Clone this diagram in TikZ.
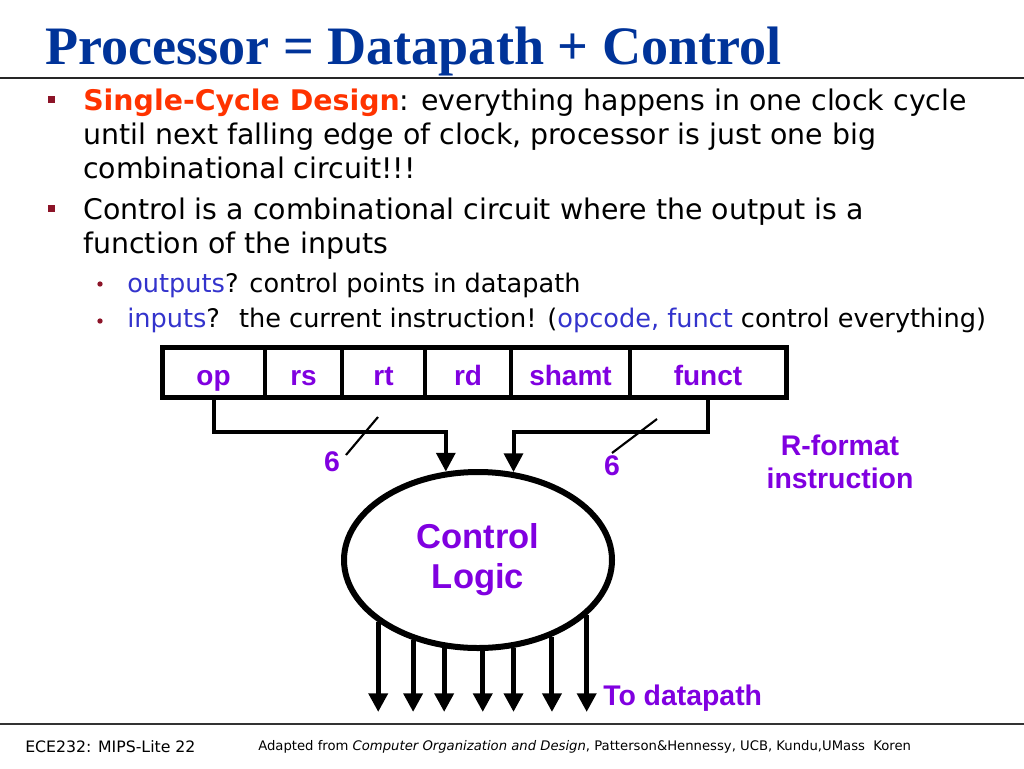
\documentclass[tikz,border=0pt]{standalone}
\usepackage{fontspec}
\setmainfont{DejaVu Sans}
\newfontfamily\titlefont{Liberation Serif}
\newfontfamily\labelfont{Liberation Sans}
\usetikzlibrary{arrows.meta}
\usetikzlibrary{positioning}
\usetikzlibrary{shapes}

\definecolor{titleblue}{RGB}{0,51,153}
\definecolor{hotred}{RGB}{255,51,0}
\definecolor{bulred}{RGB}{140,20,40}
\definecolor{txtblue}{RGB}{51,51,204}
\definecolor{ctlpurple}{RGB}{128,0,224}

\begin{document}
\begin{tikzpicture}[x=0.75pt,y=-0.75pt,
    field/.style={draw, line width=3pt, outer sep=0pt, inner sep=0pt, minimum height=37.5pt,
      text height=21pt, text depth=1.5pt,
      font=\labelfont\bfseries\fontsize{21pt}{25pt}\selectfont, text=ctlpurple},
    lbl/.style={font=\labelfont\bfseries\fontsize{21.3pt}{25pt}\selectfont, text=ctlpurple, inner sep=0pt},
    body/.style={align=left, inner sep=0pt, font=\fontsize{21.3pt}{25.5pt}\selectfont},
    subtext/.style={align=left, inner sep=0pt, font=\fontsize{19.2pt}{22pt}\selectfont},
    foot/.style={inner sep=0pt, font=\fontsize{9.9pt}{12pt}\selectfont},
    sqbul/.style={fill=bulred, minimum size=5.25pt, inner sep=0pt},
    dotbul/.style={circle, fill=bulred, minimum size=4pt, inner sep=0pt},
    bus/.style={line width=3pt, -{Triangle[length=14pt,width=14pt]}},
    outarrow/.style={line width=3.75pt, -{Triangle[length=14pt,width=14pt]}}]
    \useasboundingbox (0,0) rectangle (1024,768);

    % title and rules
    \node (title) [anchor=base west, inner sep=0pt, text=titleblue,
      font=\titlefont\bfseries\fontsize{40.6pt}{48pt}\selectfont] at (45,64) {Processor = Datapath + Control};
    \draw [line width=1.5pt, black!85] (0,78) -- (1024,78);
    \draw [line width=1.2pt, black!80] (0,724) -- (1024,724);

    % bullets
    \node (m1) [sqbul] at (51,99) {};
    \node (b1) [body, anchor=base west] at (83,178) {\textcolor{hotred}{\bfseries Single-Cycle Design}: everything happens in one clock cycle\\
      until next falling edge of clock, processor is just one big\\
      combinational circuit!!!};
    \node (m2) [sqbul] at (51,208) {};
    \node (b2) [body, anchor=base west] at (83,253) {Control is a combinational circuit where the output is a\\
      function of the inputs};
    \node (d1) [dotbul] at (100,284) {};
    \node (s1) [subtext, anchor=base west] at (127,292) {\textcolor{txtblue}{outputs}? control points in datapath};
    \node (d2) [dotbul] at (100,321) {};
    \node (s2) [subtext, anchor=base west] at (127,327) {\textcolor{txtblue}{inputs}?~ the current instruction! (\textcolor{txtblue}{opcode, funct} control everything)};

    % instruction fields
    \node (op) [field, minimum width=77.25pt] at (213.5,372) {op};
    \node (rs) [field, minimum width=57.75pt, right=0pt of op] {rs};
    \node (rt) [field, minimum width=62.25pt, right=0pt of rs] {rt};
    \node (rd) [field, minimum width=64.5pt, right=0pt of rt] {rd};
    \node (shamt) [field, minimum width=89.25pt, right=0pt of rd] {shamt};
    \node (funct) [field, minimum width=117pt, right=0pt of shamt] {funct};
    \draw [line width=3.75pt] (op.north west) rectangle (funct.south east);

    % control logic
    \node (ctl) [ellipse, draw, line width=4.5pt, minimum width=201pt, minimum height=132pt,
      inner sep=0pt, align=center, text=ctlpurple,
      font=\labelfont\bfseries\fontsize{25.9pt}{30pt}\selectfont] at (478,560) {Control\\Logic};

    \coordinate (inl) at (0,432);
    \draw [bus] (op.south) |- (ctl.110 |- inl) -- (ctl.110);
    \draw [bus] (funct.south) |- (ctl.68 |- inl) -- (ctl.68);
    \draw [line width=1.6pt] (346,455) -- (378,417);
    \draw [line width=1.6pt] (612,453) -- (657,419);
    \node (w1) [lbl] at (332,462) {6};
    \node (w2) [lbl] at (612,466) {6};
    \node (rfmt) [lbl, align=center] at (840,462) {R-format\\instruction};

    \coordinate (tips) at (0,712);
    \foreach \a in {212,231,249,273,292,314,333}
      \draw [outarrow] (ctl.\a) -- (ctl.\a |- tips);
    \node (todp) [lbl, anchor=base west] at (603,705) {To datapath};

    % footer
    \node (ftl) [foot, anchor=base west, font=\fontsize{11.8pt}{14pt}\selectfont] at (25,752) {ECE232: MIPS-Lite 22};
    \node (ftc) [foot, anchor=base west] at (258,750) {Adapted from \emph{Computer Organization and Design}, Patterson\&Hennessy, UCB, Kundu,UMass};
    \node (ftr) [foot, anchor=base west] at (873,750) {Koren};
\end{tikzpicture}
\end{document}
